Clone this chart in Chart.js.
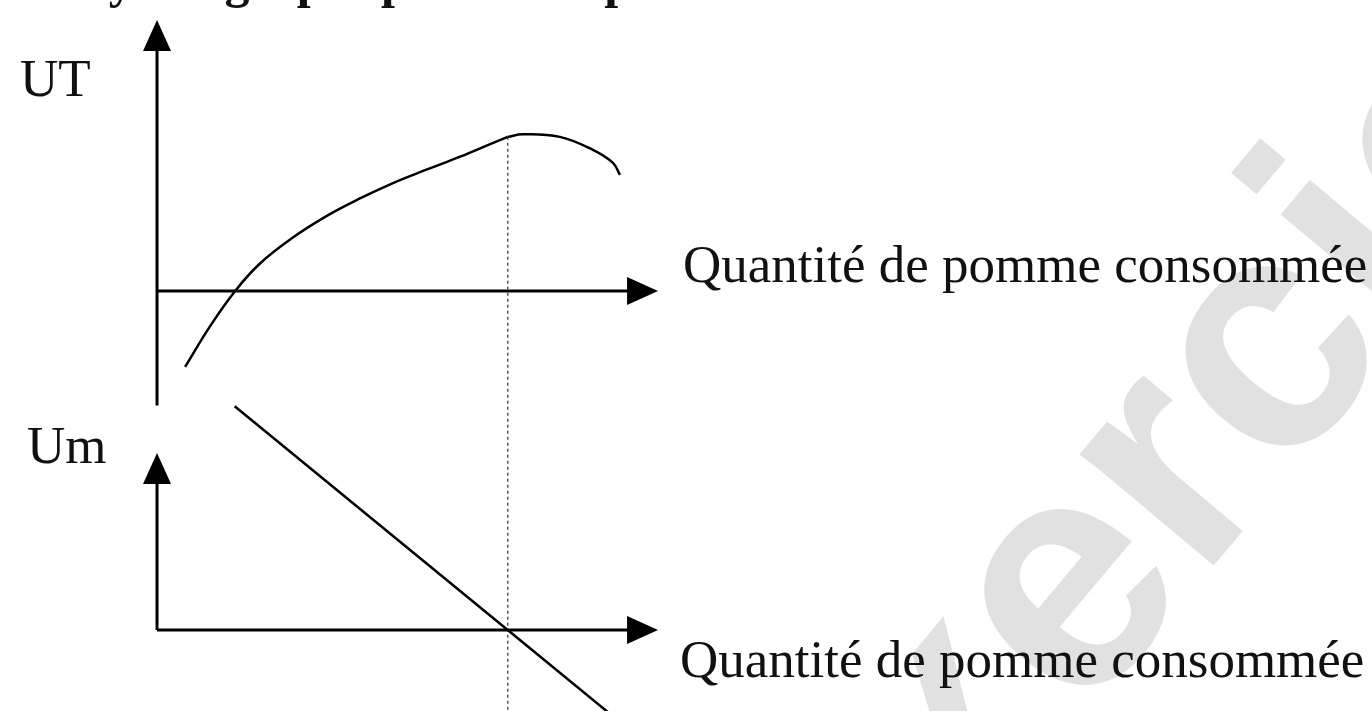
<!DOCTYPE html>
<html>
<head>
<meta charset="utf-8">
<script src="https://cdn.jsdelivr.net/npm/chart.js@4.4.0/dist/chart.umd.min.js"></script>
<style>
    body { margin: 0; background: #fff; overflow: hidden; }
    #wrap { position: relative; width: 1372px; height: 711px; overflow: hidden; }
    #chart { position: absolute; left: 0; top: 0; }
    .lbl {
        position: absolute;
        font-family: 'Liberation Serif', 'Times New Roman', serif;
        font-size: 53px;
        line-height: 53px;
        color: #111;
        white-space: nowrap;
    }
    .title { font-weight: bold; font-size: 50px; line-height: 50px; word-spacing: -6px; }
</style>
</head>
<body>
<div id="wrap">
    <canvas id="chart" width="1372" height="711"></canvas>
    <div class="lbl title" style="left:6px; top:-45px;">Analyse le graphe pour toute pomme consommée</div>
    <div class="lbl" style="left:20px; top:52px;">UT</div>
    <div class="lbl" style="left:683px; top:238px;">Quantité de pomme consommée</div>
    <div class="lbl" style="left:27px; top:419px;">Um</div>
    <div class="lbl" style="left:680px; top:633px;">Quantité de pomme consommée</div>
</div>
<script>
    // utilité totale : partie croissante jusqu'au maximum, puis décroissante
    const Q_UT_RISE = [0.56, 1.06, 1.56, 2.06, 2.71, 3.39, 4.05, 4.71, 5.39, 6.05, 6.71, 7.0];
    const UT_RISE = [-3.85, -1.78, 0, 1.4, 2.7, 3.8, 4.68, 5.46, 6.15, 6.8, 7.5, 7.8];
    const Q_UT_FALL = [7.0, 7.3, 8.04, 8.7, 9.1, 9.24];
    const UT_FALL = [7.8, 7.93, 7.8, 7.14, 6.48, 5.87];

    // utilité marginale (droite)
    const Q_UM = [1.55, 7.0, 9.0];
    const UM = [7.8, 0, -2.86];

    // quantité où UT est maximale et Um nulle
    const Q_STAR = 7;

    const toPoints = (xs, ys) => xs.map((x, i) => ({x: x, y: ys[i]}));

    const arrowHead = (ctx, x, y, dir) => {
        const len = 31, half = 14;
        ctx.beginPath();
        if (dir === 'up') {
            ctx.moveTo(x, y);
            ctx.lineTo(x - half, y + len);
            ctx.lineTo(x + half, y + len);
        } else {
            ctx.moveTo(x, y);
            ctx.lineTo(x - len, y - half);
            ctx.lineTo(x - len, y + half);
        }
        ctx.closePath();
        ctx.fill();
    }

    const axesPlugin = {
        id: 'axes',
        beforeDatasetsDraw(chart) {
            const ctx = chart.ctx;
            const sx = chart.scales.x;
            const yu = chart.scales.yUT;
            const ym = chart.scales.yUm;

            // filigrane
            ctx.save();
            ctx.translate(845, 1005);
            ctx.rotate(-50 * Math.PI / 180);
            ctx.fillStyle = '#e1e1e1';
            ctx.font = 'bold 330px "Liberation Sans", Arial, sans-serif';
            ctx.textBaseline = 'alphabetic';
            ctx.fillText('exercices', 0, 0);
            ctx.restore();

            ctx.save();
            ctx.strokeStyle = '#000';
            ctx.fillStyle = '#000';
            ctx.lineWidth = 3;

            const x0 = sx.getPixelForValue(0);
            const xEnd = sx.getPixelForValue(10);

            // axes du haut
            const yu0 = yu.getPixelForValue(0);
            const yuTop = yu.getPixelForValue(13.72);
            ctx.beginPath();
            ctx.moveTo(x0, yu.getPixelForValue(-5.8));
            ctx.lineTo(x0, yuTop + 20);
            ctx.moveTo(x0, yu0);
            ctx.lineTo(xEnd - 20, yu0);
            ctx.stroke();
            arrowHead(ctx, x0, yuTop, 'up');
            arrowHead(ctx, xEnd, yu0, 'right');

            // axes du bas
            const ym0 = ym.getPixelForValue(0);
            const ymTop = ym.getPixelForValue(6.17);
            ctx.beginPath();
            ctx.moveTo(x0, ym0);
            ctx.lineTo(x0, ymTop + 20);
            ctx.moveTo(x0, ym0);
            ctx.lineTo(xEnd - 20, ym0);
            ctx.stroke();
            arrowHead(ctx, x0, ymTop, 'up');
            arrowHead(ctx, xEnd, ym0, 'right');

            // pointillé vertical
            const xs = sx.getPixelForValue(Q_STAR);
            ctx.strokeStyle = '#555';
            ctx.lineWidth = 1.5;
            ctx.setLineDash([3, 3]);
            ctx.beginPath();
            ctx.moveTo(xs, yu.getPixelForValue(7.8));
            ctx.lineTo(xs, chart.height);
            ctx.stroke();
            ctx.restore();
        }
    };

    const lineStyle = {
        showLine: true,
        borderColor: '#000',
        borderWidth: 2.5,
        pointRadius: 0,
        fill: false,
    };

    new Chart(document.getElementById('chart'), {
        type: 'scatter',
        data: {
            datasets: [
                {...lineStyle, label: 'UT', data: toPoints(Q_UT_RISE, UT_RISE), yAxisID: 'yUT', tension: 0.4},
                {...lineStyle, label: 'UT', data: toPoints(Q_UT_FALL, UT_FALL), yAxisID: 'yUT', tension: 0.4},
                {...lineStyle, label: 'Um', data: toPoints(Q_UM, UM), yAxisID: 'yUm', tension: 0},
            ]
        },
        plugins: [axesPlugin],
        options: {
            responsive: false,
            animation: false,
            layout: { padding: 0 },
            plugins: {
                legend: { display: false },
                tooltip: { enabled: false },
            },
            scales: {
                x: { type: 'linear', min: -3.134, max: 24.25, display: false },
                yUT: { type: 'linear', min: -21.27, max: 14.73, display: false },
                yUm: { type: 'linear', min: -2.82, max: 21.95, display: false },
            }
        }
    });
</script>
</body>
</html>
